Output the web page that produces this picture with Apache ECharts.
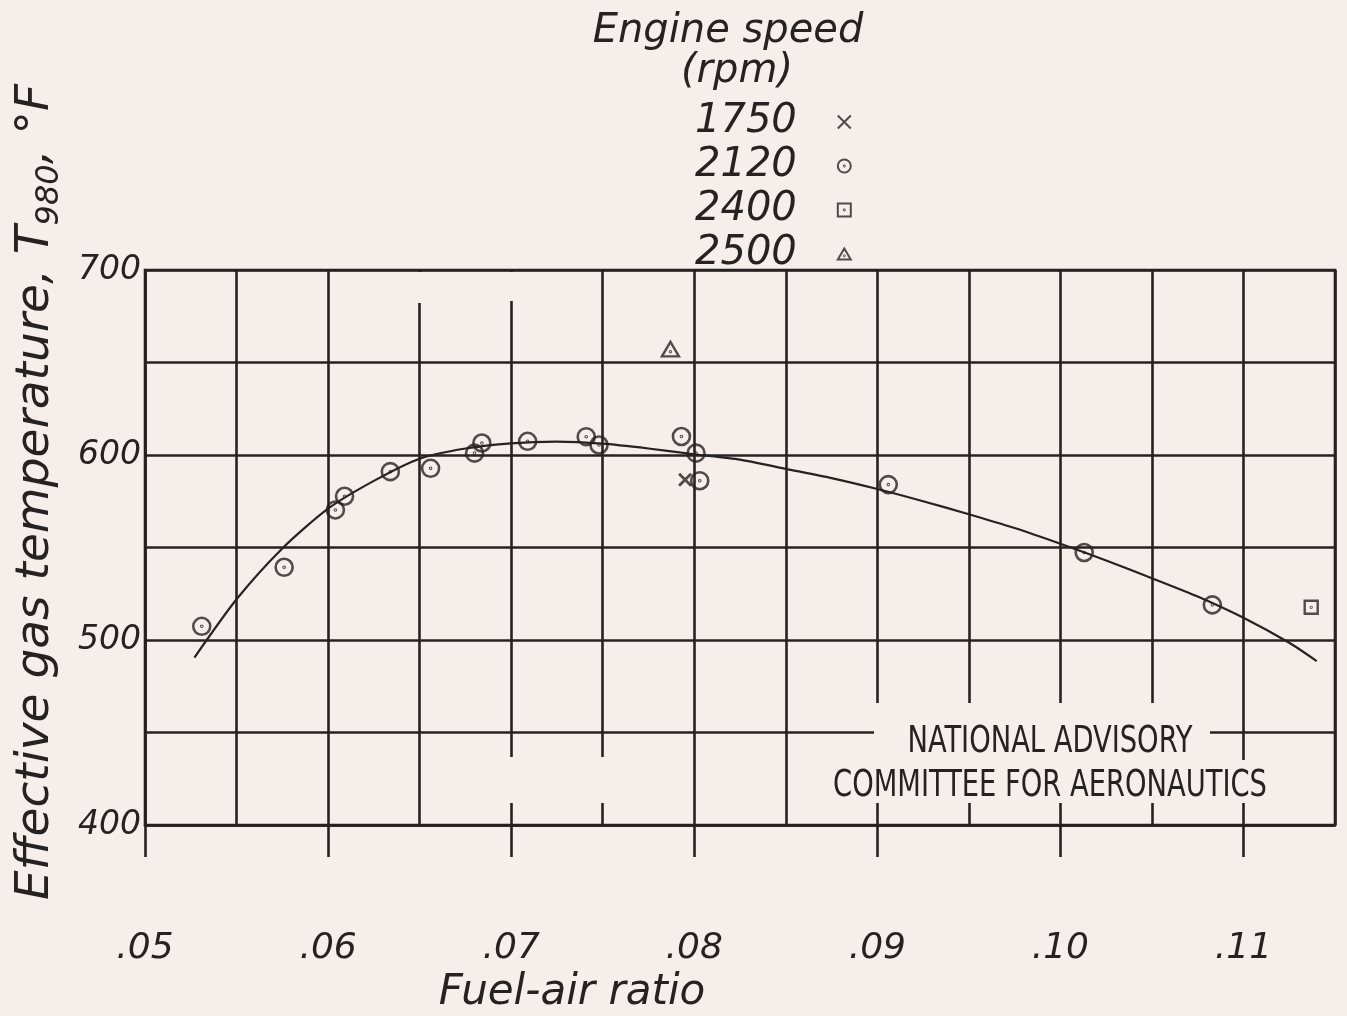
<!DOCTYPE html>
<html><head><meta charset="utf-8">
<script src="https://cdn.jsdelivr.net/npm/echarts@6/dist/echarts.min.js"></script>
<style>html,body{margin:0;padding:0;background:#f5eeeb;} #c{width:1347px;height:1016px;}</style>
</head><body><div id="c"></div>
<script>
// ---- data ----
const xTickValues = [0.05, 0.06, 0.07, 0.08, 0.09, 0.10, 0.11];
const xTickLabels = ['.05', '.06', '.07', '.08', '.09', '.10', '.11'];
const yTickValues = [400, 500, 600, 700];
const yTickLabels = ['400', '500', '600', '700'];
const legendTitle = ['Engine speed', '(rpm)'];
const seriesNames = ['1750', '2120', '2400', '2500'];
const xAxisName = 'Fuel-air ratio';
const stampLines = ['NATIONAL ADVISORY', 'COMMITTEE FOR AERONAUTICS'];

const rpm1750 = [[0.0795, 586.6]];
const rpm2120 = [[0.0531, 507.4], [0.0576, 539.3], [0.0604, 570.3], [0.0609, 577.7], [0.0634, 591.0],
  [0.0656, 592.8], [0.0680, 601.0], [0.0684, 606.5], [0.0709, 607.4], [0.0741, 609.9], [0.0748, 605.4],
  [0.0793, 610.0], [0.0801, 601.0], [0.0803, 586.1], [0.0906, 584.0], [0.1013, 547.3], [0.1083, 519.0]];
const rpm2400 = [[0.1137, 517.7]];
const rpm2500 = [[0.0787, 657.2]];

const fitX = [0.0527, 0.0550, 0.0575, 0.0600, 0.0625, 0.0650, 0.0675, 0.0700, 0.0725, 0.0750, 0.0775,
  0.0800, 0.0825, 0.0850, 0.0875, 0.0900, 0.0925, 0.0950, 0.0975, 0.1000, 0.1025, 0.1050, 0.1075,
  0.1100, 0.1125, 0.1140];
const fitY = [490.5, 522, 549.5, 571, 586, 598, 603.5, 606.3, 607.2, 606.1, 603.5,
  600.4, 597.5, 592.5, 587.5, 581.6, 575, 568, 560.5, 552, 543, 533.4, 523.5,
  512, 498.5, 488.6];

// ---- styling ----
const ink = '#272222';
const paper = '#f5eeeb';
const hand = "'DejaVu Sans', 'Open Sans', sans-serif";
const stampFont = "'Liberation Sans Narrow', 'DejaVu Sans Condensed', 'Liberation Sans', sans-serif";

const symCross = 'path://M0,0L10,10M10,0L0,10';
const symCircle = 'path://M0,10A10,10,0,1,1,20,10A10,10,0,1,1,0,10ZM9.4,10A0.6,0.6,0,1,1,10.6,10A0.6,0.6,0,1,1,9.4,10Z';
const symSquare = 'path://M0,0L20,0L20,20L0,20ZM9.4,10A0.6,0.6,0,1,1,10.6,10A0.6,0.6,0,1,1,9.4,10Z';
const symTri = 'path://M10,0L20,17L0,17ZM9.4,11.5A0.6,0.6,0,1,1,10.6,11.5A0.6,0.6,0,1,1,9.4,11.5Z';

function markerStyle(w) { return { color: 'rgba(0,0,0,0)', borderColor: ink, borderWidth: w }; }
function gap(x, y, w, h) { return { type: 'rect', z: 50, silent: true, shape: { x: x, y: y, width: w, height: h }, style: { fill: paper } }; }

const chart = echarts.init(document.getElementById('c'), null, { renderer: 'canvas' });
const gridLine = { color: ink, width: 2.6 };

chart.setOption({
  backgroundColor: paper,
  animation: false,
  grid: { left: 145, right: 12, top: 270, bottom: 191, show: true, borderColor: ink, borderWidth: 2.6, backgroundColor: 'transparent' },
  xAxis: [{
    type: 'value', min: 0.05, max: 0.115, interval: 0.005, position: 'bottom',
    axisLine: { show: true, onZero: false, lineStyle: gridLine },
    axisTick: { show: false },
    axisLabel: { show: false },
    splitLine: { show: true, lineStyle: gridLine }
  }, {
    type: 'value', min: 0.05, max: 0.115, interval: 0.005, position: 'bottom', gridIndex: 0,
    axisLine: { show: false, onZero: false },
    axisTick: { show: true, customValues: xTickValues, length: 32, lineStyle: gridLine },
    axisLabel: {
      customValues: xTickValues, margin: 106, fontFamily: hand, fontStyle: 'italic', fontSize: 36, color: ink,
      formatter: function (v) { const i = Math.round((v - 0.05) / 0.01); return xTickLabels[i] || ''; }
    },
    splitLine: { show: false }
  }],
  yAxis: {
    type: 'value', min: 400, max: 700, interval: 50,
    axisLine: { show: true, lineStyle: gridLine },
    axisTick: { show: false },
    axisLabel: {
      customValues: yTickValues, margin: 4, fontFamily: hand, fontStyle: 'italic', fontSize: 33, color: ink,
      verticalAlign: 'middle', padding: [0, 0, 22, 0],
      formatter: function (v) { const i = yTickValues.indexOf(Math.round(v)); return i >= 0 ? yTickLabels[i] : ''; }
    },
    splitLine: { show: true, lineStyle: gridLine }
  },
  legend: {
    data: seriesNames, orient: 'vertical', left: 690, top: 95, align: 'right',
    itemWidth: 13, itemHeight: 13, itemGap: 0,
    textStyle: { fontFamily: hand, fontStyle: 'italic', fontSize: 40, lineHeight: 44, color: ink, padding: [0, 36, 0, 0] }
  },
  graphic: [
    gap(874, 703, 336, 57),
    gap(820, 760, 470, 43),
    gap(416, 272, 8, 31),
    gap(507, 272, 8, 29),
    gap(507, 757, 8, 46),
    gap(598, 757, 8, 46),
    { type: 'text', z: 60, x: 1050, y: 742, scaleX: 0.8, style: { text: stampLines[0], font: "38px " + stampFont, fill: ink, align: 'center', verticalAlign: 'middle' } },
    { type: 'text', z: 60, x: 1050, y: 786, scaleX: 0.8, style: { text: stampLines[1], font: "38px " + stampFont, fill: ink, align: 'center', verticalAlign: 'middle' } },
    { type: 'text', z: 60, x: 728, y: 32, style: { text: legendTitle[0], font: "italic 40px " + hand, fill: ink, align: 'center', verticalAlign: 'middle' } },
    { type: 'text', z: 60, x: 737, y: 72, style: { text: legendTitle[1], font: "italic 40px " + hand, fill: ink, align: 'center', verticalAlign: 'middle' } },
    { type: 'text', z: 60, x: 572, y: 993, style: { text: xAxisName, font: "italic 42px " + hand, fill: ink, align: 'center', verticalAlign: 'middle' } },
    {
      type: 'text', z: 60, x: 36, y: 492, rotation: Math.PI / 2,
      style: {
        text: '{n|Effective gas temperature, T}{s|980}{n|, °F}', align: 'center', verticalAlign: 'middle', fill: ink,
        rich: {
          n: { fontFamily: hand, fontStyle: 'italic', fontSize: 47, lineHeight: 60, verticalAlign: 'middle', fill: ink },
          s: { fontFamily: hand, fontStyle: 'italic', fontSize: 32, lineHeight: 60, verticalAlign: 'bottom', fill: ink }
        }
      }
    }
  ],
  series: [
    { name: 'fit', type: 'line', data: fitX.map((x, i) => [x, fitY[i]]), smooth: 0.25, showSymbol: false, silent: true,
      lineStyle: { color: ink, width: 2.2 }, z: 3 },
    { name: seriesNames[0], type: 'scatter', data: rpm1750, symbol: symCross, symbolSize: 12, itemStyle: markerStyle(2.8), z: 5 },
    { name: seriesNames[1], type: 'scatter', data: rpm2120, symbol: symCircle, symbolSize: 17, itemStyle: markerStyle(2.6), z: 5 },
    { name: seriesNames[2], type: 'scatter', data: rpm2400, symbol: symSquare, symbolSize: 13, symbolKeepAspect: true, itemStyle: markerStyle(2.4), z: 5 },
    { name: seriesNames[3], type: 'scatter', data: rpm2500, symbol: symTri, symbolSize: 17, symbolKeepAspect: true, itemStyle: markerStyle(2.4), z: 5 }
  ]
});
</script></body></html>
